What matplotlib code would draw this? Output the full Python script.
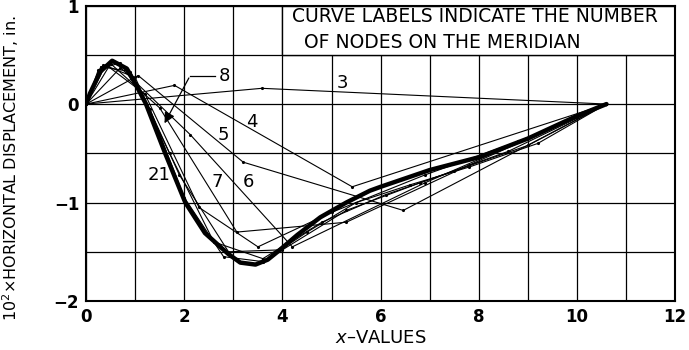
import matplotlib
matplotlib.use("Agg")
import matplotlib.pyplot as plt
from matplotlib.patches import Rectangle

# courbes (x, 10^2 x deplacement horizontal)
x3 = [0, 3.58, 10.6]
y3 = [0, 0.16, 0]

x4 = [0, 1.8, 5.42, 10.6]
y4 = [0, 0.19, -0.84, 0]

x5 = [0, 1.06, 3.2, 6.46, 10.6]
y5 = [0, 0.29, -0.59, -1.08, 0]

x6 = [0, 0.7, 2.12, 4.2, 6.9, 10.6]
y6 = [0, 0.37, -0.31, -1.45, -0.8, 0]

x7 = [0, 0.5, 1.5, 3.07, 5.3, 7.8, 10.6]
y7 = [0, 0.41, -0.04, -1.3, -1.2, -0.62, 0]

x8 = [0, 0.4, 1.2, 2.3, 3.5, 5.0, 6.9, 8.8, 10.6]
y8 = [0, 0.4, 0.1, -1.05, -1.45, -1.1, -0.72, -0.38, 0]

x9 = [0, 0.35, 1.0, 1.9, 2.9, 4.0, 5.3, 6.8, 8.6, 10.6]
y9 = [0, 0.4, 0.27, -0.72, -1.5, -1.48, -1.08, -0.8, -0.48, 0]

x10 = [0, 0.3, 0.9, 1.7, 2.6, 3.6, 4.8, 6.1, 7.5, 9.0, 10.6]
y10 = [0, 0.38, 0.33, -0.5, -1.4, -1.57, -1.2, -0.92, -0.68, -0.42, 0]

x12 = [0, 0.25, 0.7, 1.3, 2.0, 2.8, 3.6, 4.5, 5.5, 6.6, 7.8, 9.2, 10.6]
y12 = [0, 0.35, 0.42, -0.05, -0.95, -1.55, -1.6, -1.3, -1.0, -0.82, -0.64, -0.4, 0]

x21 = [0, 0.08, 0.29, 0.53, 0.83, 1.0, 1.22, 1.61, 2.02, 2.42, 2.89, 3.14, 3.45,
       3.7, 3.9, 4.3, 4.77, 5.3, 5.78, 6.0, 7.0, 8.0, 9.0, 10.0, 10.6]
y21 = [0, 0.11, 0.33, 0.44, 0.36, 0.21, 0.0, -0.5, -1.0, -1.31, -1.52, -1.61, -1.63,
       -1.58, -1.5, -1.33, -1.15, -1.0, -0.88, -0.84, -0.67, -0.54, -0.35, -0.12, 0]

courbes = [(x3, y3), (x4, y4), (x5, y5), (x6, y6), (x7, y7),
           (x8, y8), (x9, y9), (x10, y10), (x12, y12)]

# etiquettes des courbes
etiquettes = ["3", "4", "5", "6", "7", "21"]
etiq_x = [5.23, 3.38, 2.79, 3.3, 2.67, 1.49]
etiq_y = [0.21, -0.18, -0.31, -0.79, -0.79, -0.72]

fig = plt.figure(figsize=(6.89, 3.5), dpi=100)
ax = fig.add_axes([0.125, 0.14, 0.855, 0.844])

for xs, ys in courbes:
    ax.plot(xs, ys, color="black", lw=0.8, marker=".", ms=2.5, zorder=2)
ax.plot(x21, y21, color="black", lw=3.2, solid_capstyle="round", zorder=3)

for t, tx, ty in zip(etiquettes, etiq_x, etiq_y):
    ax.text(tx, ty, t, fontsize=13, ha="center", va="center", zorder=4)

# etiquette 8 avec fleche
ax.text(2.82, 0.29, "8", fontsize=13, ha="center", va="center", zorder=4)
ax.plot([2.12, 2.62], [0.29, 0.29], color="black", lw=0.9, zorder=4)
ax.annotate("", xy=(1.57, -0.22), xytext=(2.12, 0.29),
            arrowprops=dict(arrowstyle="-|>", color="black", lw=0.9,
                            mutation_scale=16), zorder=4)

# cadre de la note
ax.add_patch(Rectangle((4.0, 0.5), 8.0, 0.5, facecolor="white",
                       edgecolor="black", lw=1, zorder=1))
ax.text(7.92, 0.89, "CURVE LABELS INDICATE THE NUMBER", fontsize=13.5,
        ha="center", va="center", zorder=4)
ax.text(7.25, 0.63, "OF NODES ON THE MERIDIAN", fontsize=13.5,
        ha="center", va="center", zorder=4)

ax.set_xlim(0, 12)
ax.set_ylim(-2, 1)
ax.set_xticks([0, 2, 4, 6, 8, 10, 12])
ax.set_yticks([-2, -1, 0, 1])
ax.set_xticks(range(0, 13), minor=True)
ax.set_yticks([-2, -1.5, -1, -0.5, 0, 0.5, 1], minor=True)
ax.grid(True, which="both", color="black", lw=0.9)
ax.set_axisbelow(True)
ax.tick_params(which="both", length=0, labelsize=12, pad=5)
for lab in ax.get_xticklabels() + ax.get_yticklabels():
    lab.set_fontweight("bold")
for s in ax.spines.values():
    s.set_linewidth(1.5)

ax.set_xlabel("$x$\u2013VALUES", fontsize=13, labelpad=2)
ax.set_ylabel("10$^2$\u00d7HORIZONTAL DISPLACEMENT, in.", fontsize=11.5)
ax.yaxis.set_label_coords(-0.11, 0.45)

fig.savefig("out.png", dpi=100)
